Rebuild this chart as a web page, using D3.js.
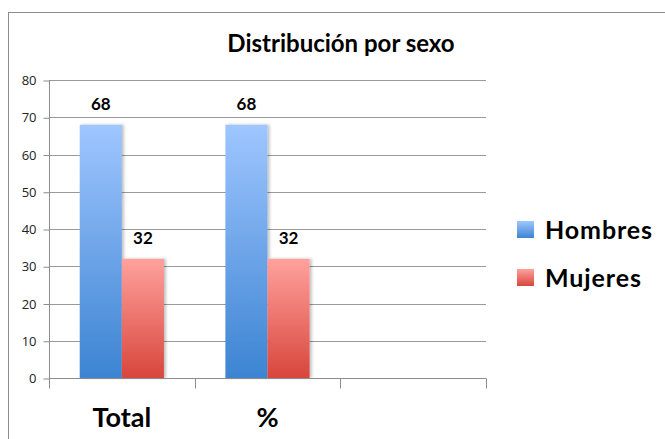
<!DOCTYPE html>
<html>
<head>
<meta charset="utf-8">
<script src="https://cdn.jsdelivr.net/npm/d3@7"></script>
<style>
  body { margin: 0; background: #fff; }
  text { font-family: Lato, "Open Sans", sans-serif; }
</style>
</head>
<body>
<div id="container"></div>
<script>
const categories = ["Total", "%", ""];
const seriesNames = ["Hombres", "Mujeres"];
const hombres = [68, 68, null];
const mujeres = [32, 32, null];
const yTicks = [0, 10, 20, 30, 40, 50, 60, 70, 80];

const w = 665;
const h = 439;
const plotL = 49;
const plotR = 486;
const plotT = 80;
const plotB = 378;

const gradColors = {
  Hombres: ["#9fc6ff", "#3c84d2"],
  Mujeres: ["#ffa19d", "#d8463c"]
};

const svg = d3.select("#container")
  .append("svg")
  .attr("width", w)
  .attr("height", h);

const defs = svg.append("defs");
seriesNames.forEach(name => {
  const g = defs.append("linearGradient")
    .attr("id", "grad-" + name)
    .attr("x1", 0).attr("y1", 0).attr("x2", 0).attr("y2", 1);
  g.append("stop").attr("offset", "0%").attr("stop-color", gradColors[name][0]);
  g.append("stop").attr("offset", "100%").attr("stop-color", gradColors[name][1]);
});
defs.append("filter")
  .attr("id", "shadow")
  .attr("x", "-20%").attr("y", "-10%").attr("width", "150%").attr("height", "120%")
  .append("feDropShadow")
  .attr("dx", 2).attr("dy", 0)
  .attr("stdDeviation", 1.5)
  .attr("flood-color", "#000")
  .attr("flood-opacity", 0.25);

// outer frame
svg.append("rect")
  .attr("x", 8.5).attr("y", 12.5)
  .attr("width", w).attr("height", h)
  .attr("fill", "none")
  .attr("stroke", "#8c8c8c")
  .attr("stroke-width", 1);

svg.append("text")
  .text("Distribución por sexo")
  .attr("x", 341)
  .attr("y", 52)
  .attr("text-anchor", "middle")
  .attr("font-weight", "bold")
  .attr("font-size", 24)
  .attr("fill", "#000");

const x0 = d3.scaleBand()
  .domain(categories)
  .range([plotL, plotR]);

const x1 = d3.scaleBand()
  .domain(seriesNames)
  .range([0, x0.bandwidth()])
  .paddingOuter(0.73);

const y = d3.scaleLinear()
  .domain([0, 80])
  .range([plotB, plotT]);

// gridlines
svg.append("g")
  .selectAll("line")
  .data(yTicks)
  .enter()
  .append("line")
  .attr("x1", plotL)
  .attr("x2", plotR)
  .attr("y1", d => Math.round(y(d)) + 0.5)
  .attr("y2", d => Math.round(y(d)) + 0.5)
  .attr("stroke", "#9a9a9a");

const yAxis = d3.axisLeft(y).tickValues(yTicks).tickSize(6).tickPadding(7);
const yg = svg.append("g")
  .attr("transform", `translate(${plotL + 0.5}, 0.5)`)
  .call(yAxis);
yg.select(".domain").attr("stroke", "#8c8c8c").attr("d", `M0,${plotT}V${plotB}`);
yg.selectAll(".tick line").attr("stroke", "#8c8c8c");
yg.selectAll(".tick text")
  .attr("font-size", 13)
  .attr("fill", "#222")
  .style("font-family", "'Open Sans', sans-serif");

const data = categories.map((c, i) => ({ cat: c, values: [
  { name: "Hombres", value: hombres[i] },
  { name: "Mujeres", value: mujeres[i] }
] }));

const groups = svg.append("g")
  .selectAll("g")
  .data(data)
  .enter()
  .append("g")
  .attr("transform", d => `translate(${x0(d.cat)}, 0)`);

const bars = groups.selectAll("g.bar")
  .data(d => d.values.filter(v => v.value != null))
  .enter()
  .append("g")
  .attr("class", "bar");

bars.append("rect")
  .attr("x", d => x1(d.name))
  .attr("y", d => y(d.value))
  .attr("width", x1.bandwidth())
  .attr("height", d => plotB - y(d.value))
  .attr("fill", d => `url(#grad-${d.name})`)
  .attr("filter", "url(#shadow)");

bars.append("text")
  .text(d => d.value)
  .attr("x", d => x1(d.name) + x1.bandwidth() / 2)
  .attr("y", d => y(d.value) - 15)
  .attr("text-anchor", "middle")
  .attr("font-weight", "bold")
  .attr("font-size", 17)
  .attr("fill", "#000");

// x axis
const xAxis = d3.axisBottom(x0).tickSize(0).tickPadding(29);
const xg = svg.append("g")
  .attr("transform", `translate(0, ${plotB + 0.5})`)
  .call(xAxis);
xg.select(".domain").attr("stroke", "#8c8c8c").attr("d", `M${plotL},0H${plotR}`);
xg.selectAll(".tick text")
  .attr("font-size", 27)
  .attr("font-weight", "bold")
  .attr("fill", "#000")
  .attr("dy", "0.71em");
const xBounds = [plotL, ...categories.map(c => x0(c) + x0.bandwidth())];
xg.selectAll("line.sep")
  .data(xBounds)
  .enter()
  .append("line")
  .attr("class", "sep")
  .attr("x1", d => Math.round(d) + 0.5)
  .attr("x2", d => Math.round(d) + 0.5)
  .attr("y1", 0)
  .attr("y2", 10)
  .attr("stroke", "#8c8c8c");

// legend
const legend = svg.append("g")
  .selectAll("g")
  .data(seriesNames)
  .enter()
  .append("g")
  .attr("transform", (d, i) => `translate(517, ${221 + i * 48})`);
legend.append("rect")
  .attr("width", 17)
  .attr("height", 17)
  .attr("fill", d => `url(#grad-${d})`);
legend.append("text")
  .text(d => d)
  .attr("x", 28)
  .attr("y", 17.5)
  .attr("font-weight", "bold")
  .attr("font-size", 25)
  .attr("letter-spacing", 0.9)
  .attr("fill", "#000");
</script>
</body>
</html>
